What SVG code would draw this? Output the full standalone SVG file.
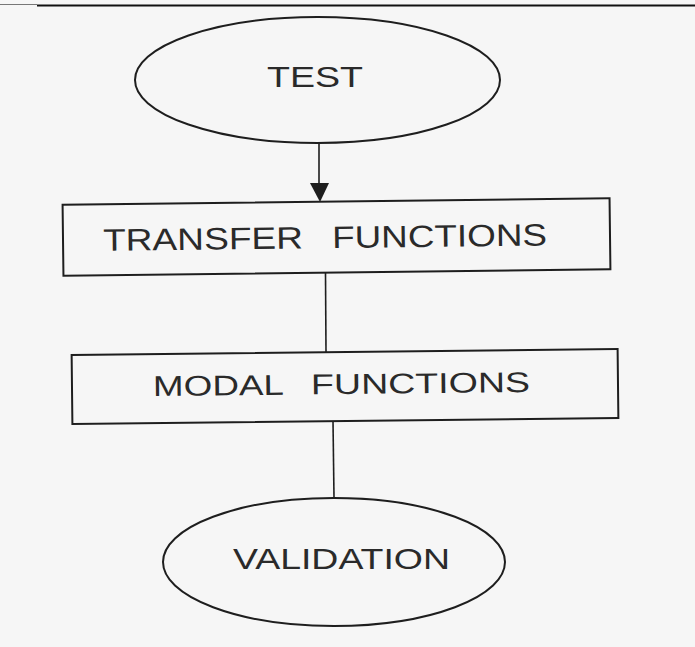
<svg xmlns="http://www.w3.org/2000/svg" width="695" height="647" viewBox="0 0 695 647">
<defs>
<style>
.shape{fill:none;stroke:#1e1e1e;stroke-width:2}
.conn{stroke:#1e1e1e;stroke-width:1.6;fill:none}
.lbl{font-family:"Liberation Sans",Arial,sans-serif;fill:#2a2a2a}
</style>
</defs>
<rect x="0" y="0" width="695" height="647" fill="#f6f6f6"/>
<line x1="0" y1="4.5" x2="37" y2="4.5" stroke="#777" stroke-width="1"/>
<line x1="37" y1="5.5" x2="695" y2="5.5" stroke="#111" stroke-width="2.2"/>
<g id="connectors">
<line class="conn" x1="319" y1="143" x2="319" y2="184"/>
<path d="M310,183 L329,183 L320,202 Z" fill="#1e1e1e"/>
<line class="conn" x1="325.5" y1="273" x2="326" y2="352"/>
<line class="conn" x1="333" y1="421" x2="334" y2="498"/>
</g>
<g id="test">
<ellipse class="shape" cx="317.5" cy="80" rx="182.5" ry="63"/>
<text class="lbl" x="267" y="87" font-size="30" textLength="96" lengthAdjust="spacingAndGlyphs">TEST</text>
</g>
<g id="transfer" transform="rotate(-0.7 336.5 237)">
<rect class="shape" x="63" y="201.5" width="547" height="71"/>
<text class="lbl" x="103" y="248" font-size="31" textLength="200" lengthAdjust="spacingAndGlyphs">TRANSFER</text>
<text class="lbl" x="332" y="248" font-size="31" textLength="215" lengthAdjust="spacingAndGlyphs">FUNCTIONS</text>
</g>
<g id="modal" transform="rotate(-0.63 345 386.5)">
<rect class="shape" x="72" y="352" width="546" height="69"/>
<text class="lbl" x="153" y="394" font-size="28.5" textLength="131" lengthAdjust="spacingAndGlyphs">MODAL</text>
<text class="lbl" x="311" y="394" font-size="28.5" textLength="219" lengthAdjust="spacingAndGlyphs">FUNCTIONS</text>
</g>
<g id="validation">
<ellipse class="shape" cx="334" cy="562" rx="171" ry="64"/>
<text class="lbl" x="233" y="569" font-size="29" textLength="217" lengthAdjust="spacingAndGlyphs">VALIDATION</text>
</g>
</svg>
